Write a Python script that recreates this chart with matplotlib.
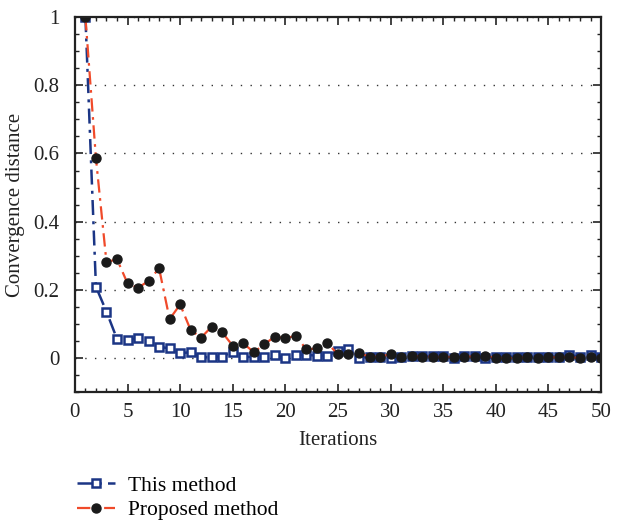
import matplotlib.pyplot as plt
import numpy as np
from matplotlib.ticker import MultipleLocator

plt.rcParams['font.family'] = ['Liberation Serif', 'DejaVu Serif']

iterations = list(range(1, 51))

# "This method" (blue, open squares)
this_method = [1.0, 0.209, 0.136, 0.056, 0.053, 0.058, 0.050, 0.033, 0.028, 0.014,
               0.017, 0.002, 0.002, 0.004, 0.019, 0.002, 0.004, 0.002, 0.009, 0.0,
               0.009, 0.009, 0.007, 0.007, 0.021, 0.026, 0.0, 0.004, 0.004, 0.0,
               0.004, 0.006, 0.006, 0.006, 0.006, 0.0, 0.006, 0.006, 0.0, 0.002,
               0.004, 0.004, 0.004, 0.004, 0.004, 0.004, 0.009, 0.004, 0.009, 0.004]

# "Proposed method" (red line, black dots)
proposed = [1.0, 0.586, 0.281, 0.290, 0.219, 0.206, 0.226, 0.263, 0.114, 0.157,
            0.082, 0.060, 0.092, 0.075, 0.036, 0.043, 0.017, 0.040, 0.063, 0.058,
            0.065, 0.025, 0.028, 0.043, 0.011, 0.011, 0.014, 0.004, 0.004, 0.011,
            0.004, 0.006, 0.004, 0.004, 0.002, 0.004, 0.004, 0.004, 0.006, 0.0,
            0.0, 0.0, 0.002, 0.0, 0.002, 0.002, 0.002, 0.0, 0.002, 0.0]

blue = '#1b3585'
red = '#f04a2a'
txt = '#222222'

fig = plt.figure(figsize=(6.19, 5.2), dpi=100)
ax = fig.add_axes([0.121, 0.246, 0.850, 0.721])

ax.plot(iterations, this_method, color=blue, lw=1.8, dashes=(6, 2.5, 1.2, 2.5),
        marker='s', ms=5.5, mfc='white', mec=blue, mew=1.8, label='This method')
ax.plot(iterations, proposed, color=red, lw=1.6, dashes=(6, 2.5, 1.2, 2.5),
        marker='o', ms=6.5, mfc='#1a1a1a', mec='#1a1a1a', label='Proposed method')

ax.set_xlim(0, 50)
ax.set_ylim(-0.1, 1.0)
ax.xaxis.set_major_locator(MultipleLocator(5))
ax.xaxis.set_minor_locator(MultipleLocator(1))
ax.yaxis.set_minor_locator(MultipleLocator(0.05))
ax.set_yticks([0, 0.2, 0.4, 0.6, 0.8, 1.0])
ax.set_yticklabels(['0', '0.2', '0.4', '0.6', '0.8', '1'])
ax.tick_params(which='both', direction='in', top=True, right=True, labelsize=15, colors=txt)
ax.tick_params(which='major', length=6, width=1.2)
ax.tick_params(which='minor', length=3, width=1)
ax.tick_params(axis='y', pad=11)
ax.tick_params(axis='x', pad=8)
for s in ax.spines.values():
    s.set_linewidth(1.6)
    s.set_color(txt)

ax.grid(axis='y', which='major', linestyle=(0, (1, 6)), color='#333333', lw=1)

ax.set_xlabel('Iterations', fontsize=15, color=txt, labelpad=6)
ax.set_ylabel('Convergence distance', fontsize=15, color=txt, labelpad=6)

ax.legend(loc='upper left', bbox_to_anchor=(-0.005, -0.211), frameon=False,
          fontsize=15.5, handlelength=1.8, handletextpad=0.6,
          labelspacing=0.22, borderaxespad=0, borderpad=0.2)

fig.savefig('out.png', dpi=100)
